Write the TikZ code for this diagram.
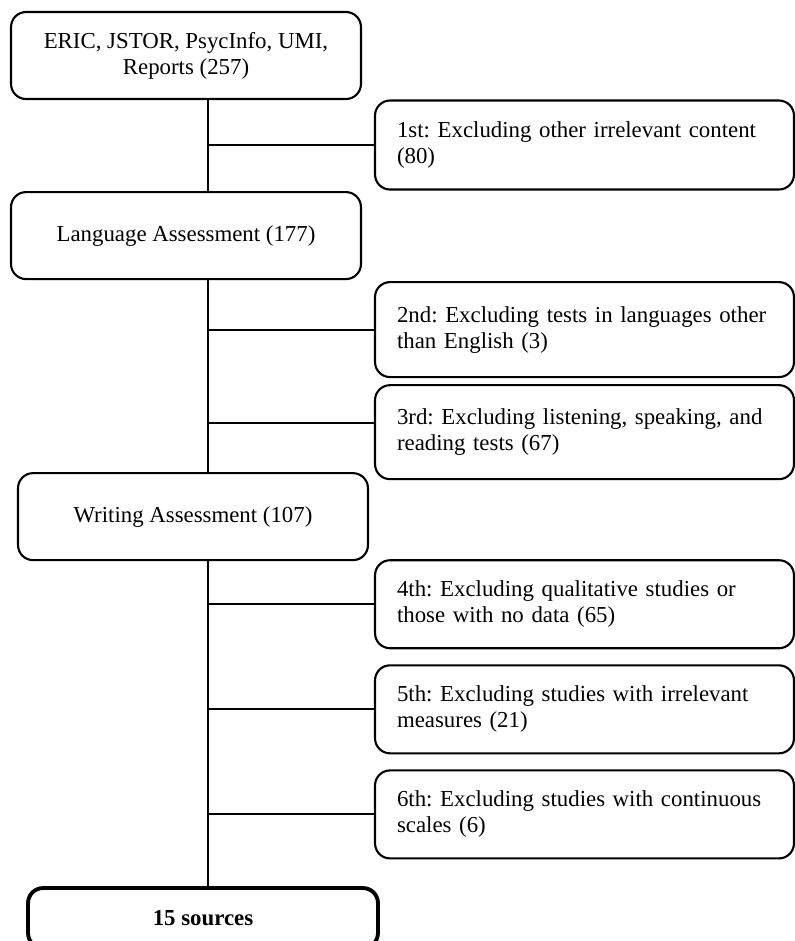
\documentclass[tikz,border=0pt]{standalone}
\usepackage{fontspec}
\setmainfont{Liberation Serif}
\usepackage{tikz}
\usetikzlibrary{positioning}
\frenchspacing

\begin{document}
\begin{tikzpicture}[
                x=0.02cm, y=-0.02cm,
                line width=1.2pt,
                mainbox/.style={draw, rounded corners=0.3cm, fill=white, minimum width=7cm, minimum height=1.74cm, align=center, font=\fontsize{13}{14.8}\selectfont},
                exclbox/.style={draw, rounded corners=0.3cm, fill=white, text width=7.5cm, inner xsep=0.44cm, minimum height=1.76cm, align=left, font=\fontsize{13}{14.8}\selectfont}
            ]
                \useasboundingbox (0,0) rectangle (795,941);

                \node[mainbox] (sources) at (186,55.5) {ERIC, JSTOR, PsycInfo, UMI,\\ Reports (257)};
                \node[mainbox, below=1.82cm of sources] (language) {Language Assessment (177)};
                \node[mainbox, below=3.84cm of language, xshift=0.14cm] (writing) {Writing Assessment (107)};
                \node[mainbox, below=6.5cm of writing, xshift=0.2cm, minimum height=1.2cm, line width=2.2pt, font=\fontsize{13}{14.8}\selectfont\bfseries] (final) {15 sources};

                \node[exclbox, minimum height=1.78cm] (excl1) at (584.5,145) {1st: Excluding other irrelevant content\\ (80)};
                \node[exclbox, below=1.81cm of excl1, minimum height=1.9cm] (excl2) {2nd: Excluding tests in languages other\\ than English (3)};
                \node[exclbox, below=0.12cm of excl2, minimum height=1.88cm] (excl3) {3rd: Excluding listening, speaking, and\\ reading tests (67)};
                \node[exclbox, below=1.58cm of excl3] (excl4) {4th: Excluding qualitative studies or\\ those with no data (65)};
                \node[exclbox, below=0.3cm of excl4] (excl5) {5th: Excluding studies with irrelevant\\ measures (21)};
                \node[exclbox, below=0.3cm of excl5] (excl6) {6th: Excluding studies with continuous\\ scales (6)};

                \coordinate (spine) at (208,0);
                \coordinate (branch3) at ([yshift=0.18cm]excl3.west);

                \draw (spine |- sources.south) -- (spine |- language.north);
                \draw (spine |- language.south) -- (spine |- writing.north);
                \draw (spine |- writing.south) -- (spine |- final.north);

                \draw (spine |- excl1.west) -- (excl1.west);
                \draw (spine |- excl2.west) -- (excl2.west);
                \draw (spine |- branch3) -- (branch3);
                \draw (spine |- excl4.west) -- (excl4.west);
                \draw (spine |- excl5.west) -- (excl5.west);
                \draw (spine |- excl6.west) -- (excl6.west);
\end{tikzpicture}
\end{document}
